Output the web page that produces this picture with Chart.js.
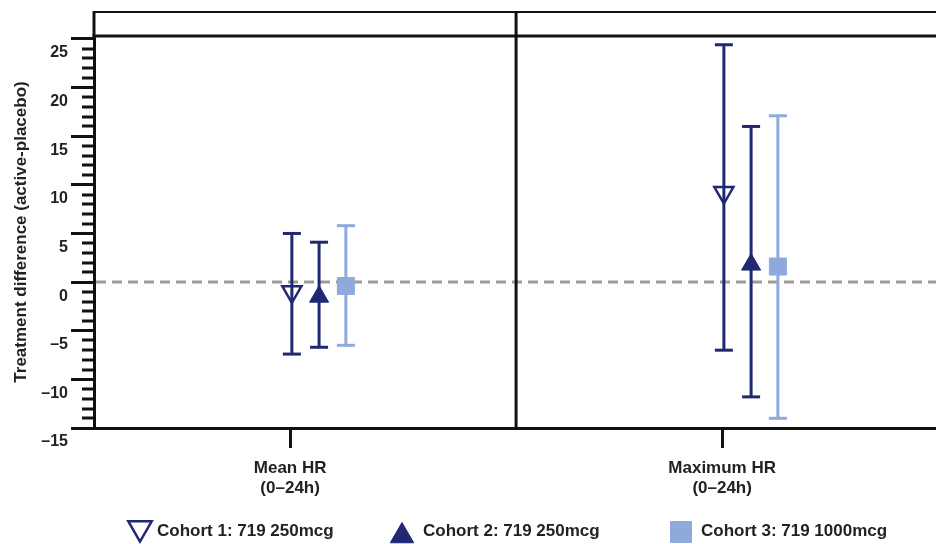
<!DOCTYPE html>
<html>
<head>
<meta charset="utf-8">
<script src="https://cdn.jsdelivr.net/npm/chart.js@4"></script>
<style>
  html, body { margin: 0; padding: 0; background: #fff; overflow: hidden; }
  #cv { display: block; }
</style>
</head>
<body>
<canvas id="cv" width="936" height="544"></canvas>
<script>
// categories (x position 1, 2) and cohort values
const categories = [["Mean HR", "(0–24h)"], ["Maximum HR", "(0–24h)"]];
const cohortNames = ["Cohort 1: 719 250mcg", "Cohort 2: 719 250mcg", "Cohort 3: 719 1000mcg"];

const c1Mid = [-1.0, 9.2];
const c1Low = [-7.4, -7.0];
const c1High = [5.0, 24.4];

const c2Mid = [-1.5, 1.8];
const c2Low = [-6.7, -11.8];
const c2High = [4.1, 16.0];

const c3Mid = [-0.4, 1.6];
const c3Low = [-6.5, -14.0];
const c3High = [5.8, 17.1];

const yTicks = [-15, -10, -5, 0, 5, 10, 15, 20, 25];

// layout bits (not data)
const dodge = [0.004, 0.067, 0.129];
const panelSplit = 1.523;
const navy = "#1f2870";
const light = "#8eaadd";
const font = "'Liberation Sans', Arial, sans-serif";
// legend: marker centre x / y, marker radius
const legendSlots = [
    { x: 140, y: 528, r: 13.5 },
    { x: 402, y: 536, r: 13.5 },
    { x: 681, y: 532, r: 14.8 }
];
const legendTextX = [157, 423, 701];
const legendTextY = 531;

function pts(mid, k) {
    return mid.map((v, i) => ({ x: i + 1 + dodge[k], y: v }));
}

const bars = [
    { low: c1Low, high: c1High, color: navy },
    { low: c2Low, high: c2High, color: navy },
    { low: c3Low, high: c3High, color: light }
];

function line(ctx, x1, y1, x2, y2) {
    ctx.beginPath();
    ctx.moveTo(x1, y1);
    ctx.lineTo(x2, y2);
    ctx.stroke();
}

const framePlugin = {
    id: "framePlugin",
    beforeDatasetsDraw(chart) {
        const { ctx, chartArea: a, scales: { x, y } } = chart;
        ctx.save();
        // minor ticks on the y axis
        ctx.strokeStyle = "#111";
        ctx.lineWidth = 3;
        for (let v = yTicks[0]; v <= yTicks[yTicks.length - 1]; v++) {
            if (v % 5 === 0) continue;
            const py = Math.round(y.getPixelForValue(v));
            line(ctx, a.left - 12, py, a.left, py);
        }
        // reference line at zero
        ctx.setLineDash([10, 6]);
        ctx.strokeStyle = "#9b9b9b";
        const y0 = y.getPixelForValue(0);
        line(ctx, a.left + 2, y0, a.right, y0);
        ctx.setLineDash([]);
        // error bars
        bars.forEach((b, k) => {
            ctx.strokeStyle = b.color;
            ctx.lineWidth = 3;
            b.low.forEach((lo, i) => {
                const px = x.getPixelForValue(i + 1 + dodge[k]);
                const pl = y.getPixelForValue(lo);
                const ph = y.getPixelForValue(b.high[i]);
                line(ctx, px, pl, px, ph);
                line(ctx, px - 9, pl, px + 9, pl);
                line(ctx, px - 9, ph, px + 9, ph);
            });
        });
        ctx.restore();
    },
    afterDraw(chart) {
        const { ctx, chartArea: a, scales: { x } } = chart;
        ctx.save();
        ctx.strokeStyle = "#111";
        ctx.lineWidth = 2;
        line(ctx, a.left, 12, a.right, 12);
        ctx.lineWidth = 3;
        line(ctx, a.left - 1.5, a.top, a.right, a.top);
        line(ctx, a.left, 11, a.left, a.top);
        const xs = x.getPixelForValue(panelSplit);
        line(ctx, xs, 11, xs, a.bottom);

        // legend, styled from the datasets
        chart.data.datasets.forEach((ds, k) => {
            const s = legendSlots[k];
            ctx.fillStyle = ds.backgroundColor;
            ctx.strokeStyle = ds.borderColor;
            ctx.lineWidth = ds.borderWidth;
            Chart.helpers.drawPoint(ctx, {
                pointStyle: ds.pointStyle,
                rotation: ds.rotation || 0,
                radius: s.r,
                borderWidth: ds.borderWidth
            }, s.x, s.y);
            ctx.fillStyle = "#222";
            ctx.font = "bold 17px " + font;
            ctx.textBaseline = "middle";
            ctx.textAlign = "left";
            ctx.fillText(ds.label, legendTextX[k], legendTextY);
        });
        ctx.restore();
    }
};

new Chart(document.getElementById("cv"), {
    type: "scatter",
    data: {
        datasets: [
            {
                label: cohortNames[0],
                data: pts(c1Mid, 0),
                pointStyle: "triangle",
                rotation: 180,
                pointRadius: 11,
                borderWidth: 2.5,
                borderColor: navy,
                backgroundColor: "rgba(255,255,255,0)"
            },
            {
                label: cohortNames[1],
                data: pts(c2Mid, 1),
                pointStyle: "triangle",
                pointRadius: 11,
                borderWidth: 1,
                borderColor: navy,
                backgroundColor: navy
            },
            {
                label: cohortNames[2],
                data: pts(c3Mid, 2),
                pointStyle: "rect",
                pointRadius: 12,
                borderWidth: 1,
                borderColor: light,
                backgroundColor: light
            }
        ]
    },
    options: {
        responsive: false,
        animation: false,
        layout: { autoPadding: false, padding: { top: 36, right: 0, left: 0, bottom: 0 } },
        plugins: {
            tooltip: { enabled: false },
            legend: { display: false }
        },
        scales: {
            x: {
                type: "linear",
                min: 0.546,
                max: 2.495,
                afterBuildTicks(s) { s.ticks = categories.map((c, i) => ({ value: i + 1 })); },
                afterFit(s) { s.height = 116; s.paddingLeft = 0; s.paddingRight = 0; },
                ticks: {
                    padding: 10,
                    color: "#222",
                    font: { family: font, size: 17, weight: "bold" },
                    callback: (v) => categories[v - 1] || ""
                },
                grid: { drawOnChartArea: false, tickLength: 20, tickWidth: 3, tickColor: "#111" },
                border: { color: "#111", width: 3 }
            },
            y: {
                min: -15,
                max: 25.3,
                afterBuildTicks(s) { s.ticks = yTicks.map(v => ({ value: v })); },
                afterFit(s) { s.width = 94; },
                ticks: {
                    padding: 3,
                    labelOffset: 14,
                    color: "#222",
                    font: { family: font, size: 16, weight: "bold" },
                    callback: (v) => (v < 0 ? "–" + Math.abs(v) : String(v))
                },
                grid: { drawOnChartArea: false, tickLength: 23, tickWidth: 3, tickColor: "#111" },
                border: { color: "#111", width: 3 },
                title: {
                    display: true,
                    text: "Treatment difference (active-placebo)",
                    color: "#222",
                    padding: { top: 11, bottom: 0 },
                    font: { family: font, size: 17, weight: "bold" }
                }
            }
        }
    },
    plugins: [framePlugin]
});
</script>
</body>
</html>
